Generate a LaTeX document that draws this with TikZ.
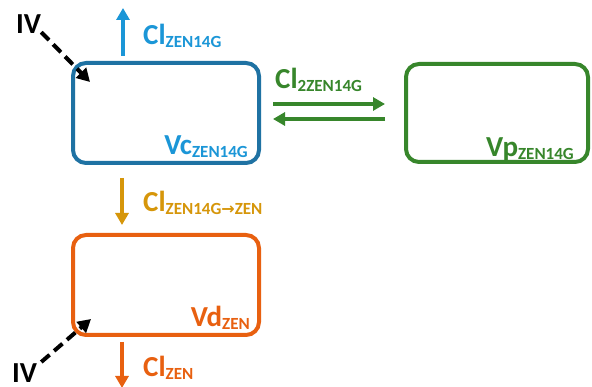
\documentclass[tikz,border=0pt]{standalone}
\usepackage{fontspec}
\setmainfont{Carlito}
\newfontfamily\dejavu{DejaVu Sans}
\usetikzlibrary{arrows.meta,calc}
\definecolor{boxblue}{RGB}{31,114,163}
\definecolor{lblue}{RGB}{27,150,215}
\definecolor{mygreen}{RGB}{55,134,43}
\definecolor{myorange}{RGB}{232,96,16}
\definecolor{mygold}{RGB}{214,150,10}
\newcommand\sbs[1]{\raisebox{-3pt}{\fontsize{17}{17}\selectfont #1}}
\tikzset{
  compart/.style={draw,line width=4pt,rounded corners=13pt,inner sep=0pt,minimum width=186pt,minimum height=100pt},
  lbl/.style={font=\fontsize{29}{29}\selectfont\bfseries,inner sep=0pt},
  flow/.style={line width=4pt,-{Triangle[length=12pt,width=13pt]}},
  dflow/.style={line width=4pt,dash pattern=on 11pt off 6pt,-{Triangle[length=13pt,width=14pt]}},
}
\begin{document}
\begin{tikzpicture}[x=1pt,y=-1pt]
\useasboundingbox (0,0) rectangle (592,387);
\fill[white] (0,0) rectangle (592,387);
% compartments
\node[compart,draw=boxblue] (vc) at (166,113) {};
\node[compart,draw=mygreen,minimum width=182pt,minimum height=98pt] (vp) at (497,113) {};
\node[compart,draw=myorange] (vd) at (166,285) {};
% compartment labels
\node[lbl,text=lblue,anchor=base east] (vclab) at (248,155) {Vc\sbs{ZEN14G}};
\node[lbl,text=mygreen,anchor=base east] (vplab) at (574,157) {Vp\sbs{ZEN14G}};
\node[lbl,text=myorange,anchor=base east] (vdlab) at (250,327) {Vd\sbs{ZEN}};
% IV
\node[lbl,anchor=base west] (iv1) at (16,34) {IV};
\node[lbl,anchor=base west] (iv2) at (12,383) {IV};
\coordinate (iv1tip) at (90,82);
\coordinate (iv2tip) at (91,319);
\draw[dflow] ($(iv1.south east)+(0,-2)$) -- (iv1tip);
\draw[dflow] ($(iv2.north east)+(4,-2)$) -- (iv2tip);
% blue elimination
\coordinate (clout) at (123,8);
\draw[flow,lblue,shorten <=5pt] ([xshift=-43pt]vc.north) -- (clout);
\node[lbl,text=lblue,anchor=base west] (cl1) at (143,45) {Cl\sbs{ZEN14G}};
% green exchange
\draw[flow,mygreen,shorten <=12pt,shorten >=19pt] ([yshift=9pt]vc.east) -- ([yshift=9pt]vp.west);
\draw[flow,mygreen,shorten <=19pt,shorten >=12pt] ([yshift=-6pt]vp.west) -- ([yshift=-6pt]vc.east);
\node[lbl,text=mygreen,anchor=base west] (cl2) at (275,89) {Cl\sbs{2ZEN14G}};
% gold conversion
\draw[flow,mygold,shorten <=13pt,shorten >=8pt] ([xshift=-44pt]vc.south) -- ([xshift=-44pt]vd.north);
\node[lbl,text=mygold,anchor=base west] (cl3) at (143,212) {Cl\sbs{ZEN14G{\dejavu\bfseries\fontsize{16}{16}\selectfont →}ZEN}};
% orange elimination
\coordinate (clzout) at (122,388);
\draw[flow,myorange,shorten <=5pt] ([xshift=-44pt]vd.south) -- (clzout);
\node[lbl,text=myorange,anchor=base west] (cl4) at (143,377) {Cl\sbs{ZEN}};
\end{tikzpicture}
\end{document}
